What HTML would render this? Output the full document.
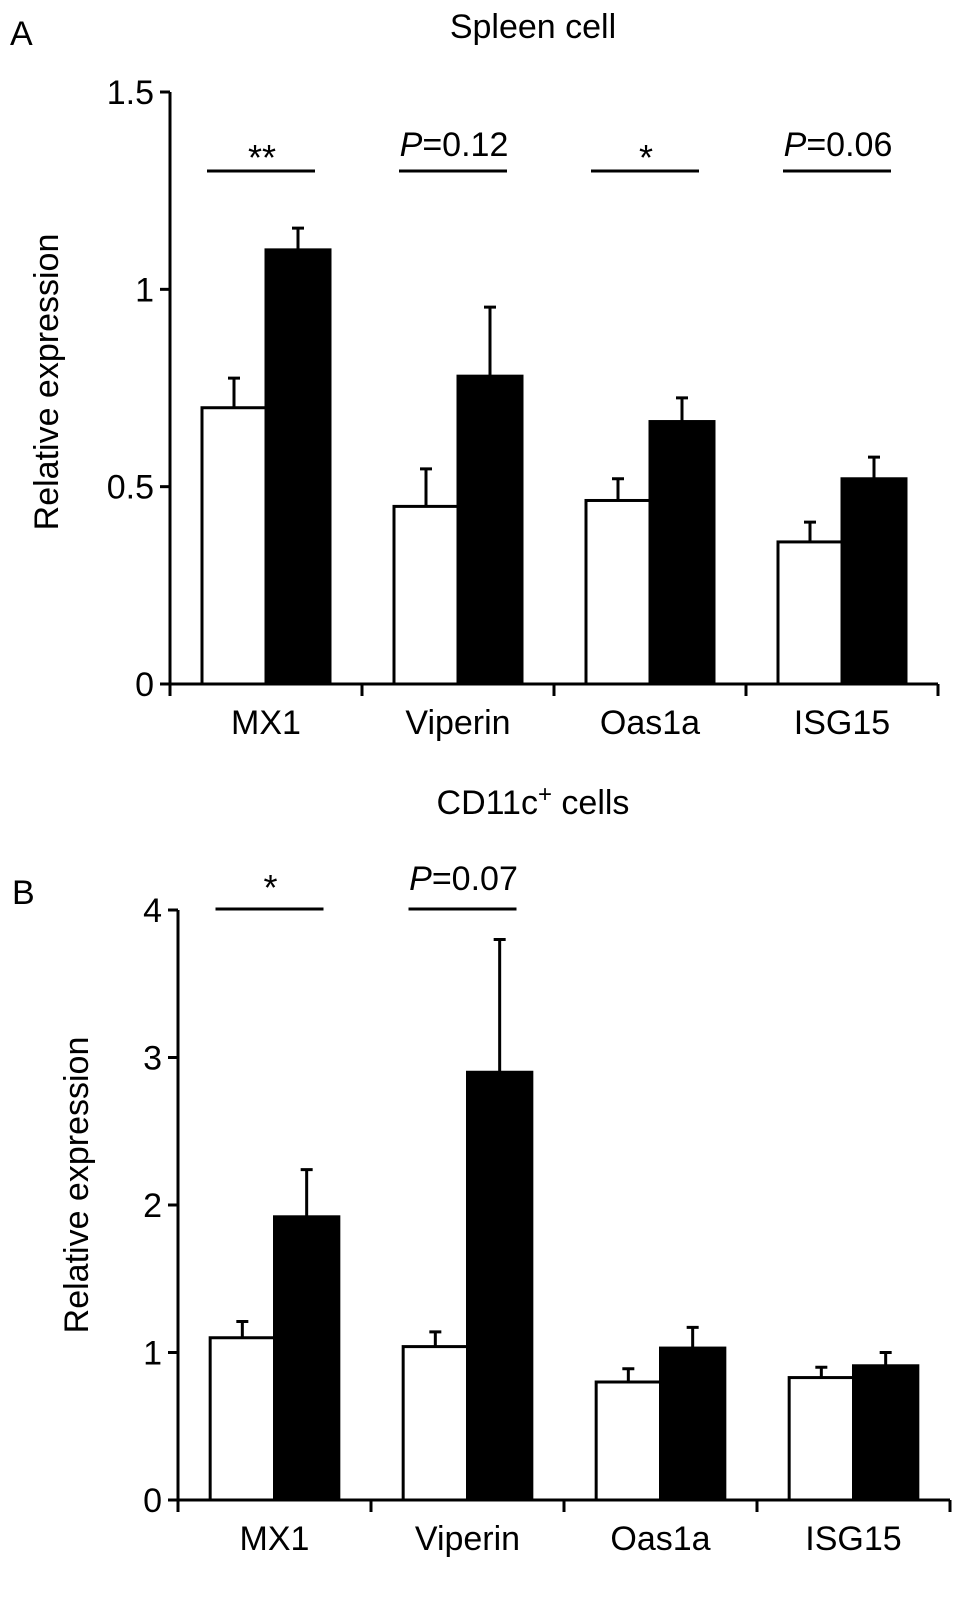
<!DOCTYPE html>
<html><head><meta charset="utf-8"><style>
html,body{margin:0;padding:0;background:#fff;}
svg{display:block;font-family:"Liberation Sans",Arial,sans-serif;}
</style></head><body>
<svg id="fig" width="969" height="1598" viewBox="0 0 969 1598" xmlns="http://www.w3.org/2000/svg">
<text x="10" y="45" font-size="34">A</text>
<text x="533" y="38" font-size="34" text-anchor="middle">Spleen cell</text>
<text transform="translate(58,382) rotate(-90)" font-size="34" text-anchor="middle">Relative expression</text>
<text x="12" y="904" font-size="34">B</text>
<text x="533" y="814" font-size="34" text-anchor="middle">CD11c<tspan dy="-12" font-size="24">+</tspan><tspan dy="12"> cells</tspan></text>
<text transform="translate(88,1185) rotate(-90)" font-size="34" text-anchor="middle">Relative expression</text>
<g id="pa"></g>
<g id="pb"></g>
</svg>
<script>
const categories = ["MX1","Viperin","Oas1a","ISG15"];
const aWhite = [0.70,0.45,0.465,0.36];
const aWhiteErr = [0.075,0.095,0.055,0.05];
const aBlack = [1.10,0.78,0.665,0.52];
const aBlackErr = [0.055,0.175,0.06,0.055];
const aTicks = [0,0.5,1,1.5];
const aTickLabels = ["0","0.5","1","1.5"];
const aSig = ["**","P=0.12","*","P=0.06"];
const bWhite = [1.10,1.04,0.80,0.83];
const bWhiteErr = [0.11,0.10,0.09,0.07];
const bBlack = [1.92,2.90,1.03,0.91];
const bBlackErr = [0.32,0.90,0.14,0.09];
const bTicks = [0,1,2,3,4];
const bTickLabels = ["0","1","2","3","4"];
const bSig = ["*","P=0.07","",""];

const NS="http://www.w3.org/2000/svg";
function mk(parent,tag,attrs,txt){const e=document.createElementNS(NS,tag);for(const k in attrs)e.setAttribute(k,attrs[k]);if(txt!==undefined)e.textContent=txt;parent.appendChild(e);return e;}

function draw(g,cfg){
  const {x0,x1,y0,yTop,maxV,white,wErr,black,bErr,ticks,tickLabels,sig,sigY,sigTextY,starY,pfx}=cfg;
  const y=v=>y0-(v/maxV)*(y0-yTop);
  const step=(x1-x0)/categories.length;
  const cx=i=>x0+step*(i+0.5);
  const bw=step/3;
  let ax=mk(g,'line',{x1:x0,y1:y0,x2:x1,y2:y0,stroke:'#000','stroke-width':3});
  
  
  let ay=mk(g,'line',{x1:x0,y1:y0+10,x2:x0,y2:yTop,stroke:'#000','stroke-width':3});
  
  
  ticks.forEach((t,i)=>{
    let tk=mk(g,'line',{x1:x0-10,y1:y(t),x2:x0,y2:y(t),stroke:'#000','stroke-width':3});
    
    
    let tl=mk(g,'text',{x:x0-16,y:y(t)+12,'font-size':34,'text-anchor':'end'},tickLabels[i]);
    
    
  });
  for(let i=0;i<=categories.length;i++){
    let xt=mk(g,'line',{x1:x0+step*i,y1:y0,x2:x0+step*i,y2:y0+12,stroke:'#000','stroke-width':3});
    
    
  }
  categories.forEach((c,i)=>{
    const c0=cx(i);
    const wx=c0-bw, bx=c0;
    let w=mk(g,'rect',{x:wx,y:y(white[i]),width:bw,height:y0-y(white[i]),fill:'#fff',stroke:'#000','stroke-width':3});
    
    
    let b=mk(g,'rect',{x:bx,y:y(black[i]),width:bw,height:y0-y(black[i]),fill:'#000',stroke:'#000','stroke-width':3});
    
    
    [[wx+bw/2,white[i],wErr[i],'control'],[bx+bw/2,black[i],bErr[i],'treated']].forEach(([ex,v,e,n])=>{
      let eb=mk(g,'path',{d:`M${ex},${y(v)} V${y(v+e)} M${ex-6},${y(v+e)} H${ex+6}`,stroke:'#000','stroke-width':3,fill:'none'});
      
      
    });
    let lb=mk(g,'text',{x:c0,y:y0+50,'font-size':34,'text-anchor':'middle'},c);
    
    
    if(sig[i]){
      let sl=mk(g,'line',{x1:c0-59,y1:sigY,x2:c0+49,y2:sigY,stroke:'#000','stroke-width':3});
      
      
      let st;
      if(sig[i].startsWith('P')){
        st=mk(g,'text',{x:c0-4,y:sigTextY,'font-size':34,'text-anchor':'middle'});
        mk(st,'tspan',{'font-style':'italic'},'P');
        mk(st,'tspan',{},sig[i].slice(1));
      } else {
        st=mk(g,'text',{x:c0-4,y:starY,'font-size':36,'text-anchor':'middle'},sig[i]);
      }
      
      
    }
  });
}
draw(document.getElementById('pa'),{x0:170,x1:938,y0:684,yTop:92,maxV:1.5,white:aWhite,wErr:aWhiteErr,black:aBlack,bErr:aBlackErr,ticks:aTicks,tickLabels:aTickLabels,sig:aSig,sigY:171,sigTextY:156,starY:170,pfx:'panel-a'});
draw(document.getElementById('pb'),{x0:178,x1:950,y0:1500,yTop:910,maxV:4,white:bWhite,wErr:bWhiteErr,black:bBlack,bErr:bBlackErr,ticks:bTicks,tickLabels:bTickLabels,sig:bSig,sigY:909,sigTextY:890,starY:900,pfx:'panel-b'});
</script>
</body></html>
